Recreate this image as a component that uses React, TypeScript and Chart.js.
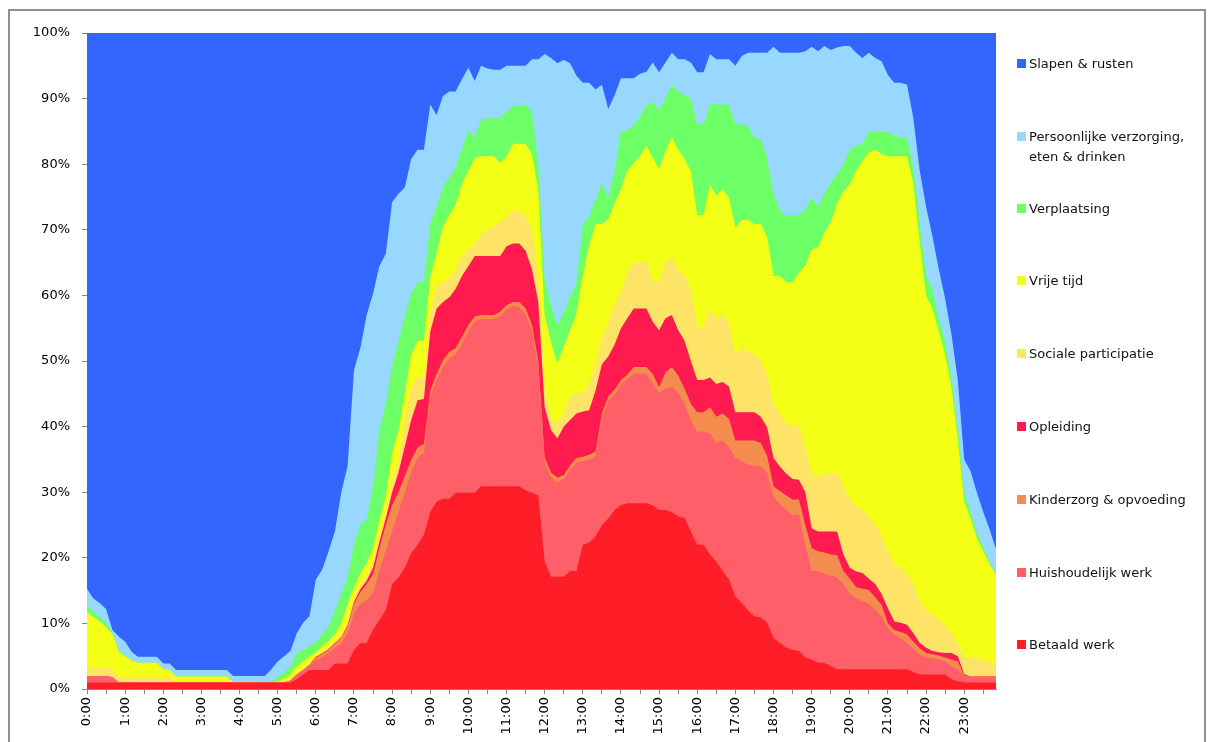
import React, { useEffect, useRef } from 'react';
import { Chart, registerables } from 'chart.js';

Chart.register(...registerables);

const categories: string[] = [
  '0:00','0:10','0:20','0:30','0:40','0:50','1:00','1:10','1:20','1:30','1:40','1:50',
  '2:00','2:10','2:20','2:30','2:40','2:50','3:00','3:10','3:20','3:30','3:40','3:50',
  '4:00','4:10','4:20','4:30','4:40','4:50','5:00','5:10','5:20','5:30','5:40','5:50',
  '6:00','6:10','6:20','6:30','6:40','6:50','7:00','7:10','7:20','7:30','7:40','7:50',
  '8:00','8:10','8:20','8:30','8:40','8:50','9:00','9:10','9:20','9:30','9:40','9:50',
  '10:00','10:10','10:20','10:30','10:40','10:50','11:00','11:10','11:20','11:30','11:40','11:50',
  '12:00','12:10','12:20','12:30','12:40','12:50','13:00','13:10','13:20','13:30','13:40','13:50',
  '14:00','14:10','14:20','14:30','14:40','14:50','15:00','15:10','15:20','15:30','15:40','15:50',
  '16:00','16:10','16:20','16:30','16:40','16:50','17:00','17:10','17:20','17:30','17:40','17:50',
  '18:00','18:10','18:20','18:30','18:40','18:50','19:00','19:10','19:20','19:30','19:40','19:50',
  '20:00','20:10','20:20','20:30','20:40','20:50','21:00','21:10','21:20','21:30','21:40','21:50',
  '22:00','22:10','22:20','22:30','22:40','22:50','23:00','23:10','23:20','23:30','23:40','23:50',
];

const betaaldWerk: number[] = [
  1,1,1,1,1,1,1,1,1,1,1,1,
  1,1,1,1,1,1,1,1,1,1,1,1,
  1,1,1,1,1,1,1,1,1,1.5,2.2,2.9,
  2.9,2.9,2.9,3.9,3.9,3.9,6.0,7.0,7.0,9.0,10.5,12.0,
  16.0,17.0,18.5,20.7,22.0,23.5,27.0,28.6,29.0,29.0,29.9,29.9,
  29.9,29.9,30.9,30.9,30.9,30.9,30.9,30.9,30.9,30.3,29.9,29.5,
  19.4,17.1,17.1,17.1,18.0,18.0,22.0,22.3,23.3,25.0,26.0,27.3,
  28.0,28.3,28.3,28.3,28.3,28.0,27.3,27.3,27.0,26.3,26.1,24.0,
  22.0,22.0,20.5,19.4,18.0,16.7,14.1,13.1,12.0,11.1,10.9,10.1,
  7.8,7.0,6.3,6.0,5.8,4.8,4.5,4.0,4.0,3.5,3.0,3.0,
  3.0,3.0,3.0,3.0,3.0,3.0,3.0,3.0,3.0,3.0,2.6,2.2,
  2.2,2.2,2.2,2.2,1.5,1.2,1.0,1.0,1.0,1.0,1.0,1.0,
];

const huishoudelijkWerk: number[] = [
  1.0,1.0,1.0,1.0,0.8,0,0,0,0,0,0,0,
  0,0,0,0,0,0,0,0,0,0,0,0,
  0,0,0,0,0,0,0,0,0.3,0.7,0.7,0.6,
  1.5,1.9,2.6,2.4,3.1,4.6,5.5,6.0,6.5,5.6,7.5,9.0,
  8.0,10.0,11.5,12.3,13.2,12.5,17.5,18.5,20.1,21.4,21.1,22.8,
  24.6,26.1,25.5,25.5,25.5,25.9,26.9,27.5,27.3,26.7,24.6,19.5,
  15.1,15.2,14.3,14.9,15.4,16.5,12.7,12.7,12.2,16.2,17.9,17.6,
  18.4,18.9,19.8,19.8,19.8,18.5,17.8,18.5,19.1,18.8,17.4,17.0,
  17.2,17.2,18.5,18.1,19.9,20.1,21.1,21.6,22.2,22.9,23.0,22.8,
  21.5,21.2,21.0,20.5,20.8,17.2,13.5,14.0,13.6,13.8,14.0,13.0,
  11.5,10.8,10.4,10.0,9.1,8.0,6.3,5.3,4.8,4.0,3.5,3.0,
  2.6,2.5,2.3,2.0,2.0,1.8,0.9,0.9,0.9,0.9,0.9,0.9,
];

const kinderzorg: number[] = [
  0,0,0,0,0,0,0,0,0,0,0,0,
  0,0,0,0,0,0,0,0,0,0,0,0,
  0,0,0,0,0,0,0,0,0,0,0,0.1,
  0.4,0.5,0.5,0.6,0.8,1.0,1.5,1.8,2.5,2.9,3.5,4.0,
  4.0,3.0,2.5,1.9,1.6,1.4,1.0,0.9,1.0,1.0,1.0,1.0,
  1.0,0.8,0.6,0.6,0.6,0.7,0.7,0.6,0.8,1.0,1.0,1.0,
  0.8,0.7,0.8,0.6,0.7,0.7,0.7,0.7,0.7,0.8,0.7,0.7,
  0.7,0.7,1.0,1.0,1.0,1.5,0.9,2.5,3.0,2.7,2.3,2.5,
  3.0,3.0,4.0,4.0,4.1,4.4,2.7,3.2,3.7,3.9,3.6,2.6,
  1.6,2.0,2.2,2.4,2.3,3.0,3.5,3.0,3.2,3.2,3.4,2.0,
  2.3,1.7,1.9,2.1,1.9,1.8,0.7,0.7,0.9,1.3,1.1,1.0,
  0.7,0.6,0.6,0.6,1.0,1.2,0.2,0,0,0,0,0,
];

const opleiding: number[] = [
  0,0,0,0,0,0,0,0,0,0,0,0,
  0,0,0,0,0,0,0,0,0,0,0,0,
  0,0,0,0,0,0,0,0,0,0,0,0.1,
  0.1,0.1,0.1,0.1,0.1,0.2,0.3,0.4,0.5,1.0,1.0,1.0,
  2.0,3.0,4.5,6.1,7.2,6.8,9.0,10.0,8.9,8.3,9.0,9.3,
  9.0,9.2,9.0,9.0,9.0,8.5,9.0,8.9,8.9,8.8,8.5,9.0,
  7.7,6.5,6.0,7.4,6.9,6.8,6.9,6.8,9.3,7.5,6.1,6.9,
  7.9,8.6,8.9,8.9,8.9,8.0,8.7,8.2,7.9,6.9,7.3,6.5,
  4.9,4.9,4.5,5.0,4.8,4.9,4.3,4.3,4.3,4.3,4.0,4.4,
  4.3,3.7,3.3,3.1,3.0,5.0,3.0,3.0,3.2,3.5,3.6,2.5,
  1.7,2.4,2.4,1.7,2.0,1.7,2.3,1.3,1.4,1.5,1.3,0.8,
  0.8,0.5,0.5,0.7,1.0,0.8,0.2,0,0,0,0,0,
];

const socialeParticipatie: number[] = [
  1.2,1.2,1.2,1.2,1.2,0.8,0.8,0.8,0.8,0.8,0.8,0.8,
  0.8,0.8,0.2,0.2,0.2,0.2,0.2,0.2,0.2,0.2,0.2,0,
  0,0,0,0,0,0,0,0.1,0.1,0.2,0.2,0.2,
  0.2,0.3,0.4,0.4,0.5,0.6,0.7,0.8,0.8,1.2,1.0,1.0,
  2.0,2.0,4.0,5.0,3.5,3.3,3.0,3.5,3.0,3.0,3.0,3.0,
  2.5,2.0,3.3,4.0,4.5,5.2,4.5,5.0,5.0,5.2,6.0,4.0,
  3.0,2.0,2.3,2.0,3.5,3.0,3.0,4.0,4.0,4.0,5.3,6.0,
  5.5,7.0,7.0,7.0,7.3,6.3,7.3,8.5,9.0,9.3,9.9,11.0,
  8.0,8.0,10.5,10.0,10.2,9.6,8.9,9.9,9.3,8.9,8.5,8.1,
  8.3,8.1,7.7,8.2,8.3,7.0,8.5,8.3,8.9,8.9,8.9,10.5,
  10.5,9.9,9.6,9.4,9.0,9.0,8.7,8.7,8.4,7.7,7.6,6.5,
  5.7,5.6,4.9,4.3,3.0,2.0,2.5,2.9,2.9,2.6,2.1,1.9,
];

const vrijeTijd: number[] = [
  8.6,7.8,7.1,6.2,5.4,3.9,3.2,2.6,2.2,2.2,2.2,2.2,
  1.2,1.1,0.7,0.7,0.7,0.7,0.7,0.7,0.7,0.7,0.7,0,
  0,0,0,0,0,0,0.2,0.5,0.8,1.1,1.1,1.1,
  0.5,0.8,0.8,0.9,1.6,2.7,1.5,1.6,1.9,1.8,2.3,2.3,
  3.9,4.5,4.1,5.0,5.6,5.6,5.2,5.0,8.5,9.5,9.9,11.0,
  12.0,13.0,11.9,11.2,10.7,9.0,9.2,10.2,10.2,11.1,11.5,13.0,
  11.0,11.4,9.1,10.2,10.2,12.3,17.7,21.1,21.4,17.4,15.6,15.5,
  15.7,15.5,15.2,16.2,17.5,18.7,17.3,17.0,18.1,18.2,17.8,17.9,
  17.1,17.1,18.9,18.7,19.2,19.2,19.2,19.4,20.0,19.8,20.9,20.9,
  19.5,21.0,21.5,21.8,23.3,27.6,34.0,35.0,36.7,38.3,41.1,44.9,
  47.9,51.2,53.2,55.6,57.2,58.0,60.2,62.2,62.7,63.7,60.9,54.5,
  48.0,46.6,44.0,41.2,37.5,31.0,23.8,21.2,18.2,16.5,15.0,13.6,
];

const verplaatsing: number[] = [
  1.0,0.8,0.7,0.6,0.3,0.3,0.2,0,0,0,0,0,
  0,0,0,0,0,0,0,0,0,0,0,0,
  0,0,0,0,0,0.2,0.6,0.9,1.3,2.0,1.8,1.5,
  1.4,1.8,2.2,3.7,4.5,4.0,6.5,7.4,6.6,9.3,13.7,14.2,
  13.2,13.5,11.7,9.3,8.9,8.9,8.3,7.0,6.0,5.8,5.6,5.5,
  6.1,3.1,5.6,5.8,5.8,6.9,6.8,5.7,5.9,6.0,6.5,4.0,
  5.5,5.6,5.9,5.1,5.0,4.7,7.9,4.4,3.6,6.1,3.4,5.0,
  8.9,6.1,5.8,5.9,6.2,8.5,9.0,8.0,8.0,8.9,9.7,11.1,
  13.9,13.9,12.2,13.9,12.9,14.2,15.8,14.5,14.3,13.2,12.9,12.1,
  12.5,9.9,10.2,10.2,8.7,8.4,7.9,6.2,5.9,6.0,4.5,4.1,
  5.3,3.8,2.6,3.1,2.7,3.4,3.7,3.1,2.9,2.9,2.5,3.0,
  3.0,3.0,2.0,2.0,1.5,1.5,1.4,1.0,0.8,0.6,0.4,0.3,
];

const persoonlijkeVerzorging: number[] = [
  2.5,2.0,2.1,2.2,0.3,2.0,2.0,1.3,0.9,0.9,0.9,0.9,
  0.9,1.0,1.0,1.0,1.0,1.0,1.0,1.0,1.0,1.0,1.0,1.0,
  1.0,1.0,1.0,1.0,1.0,1.8,2.4,2.5,2.3,3.0,4.1,4.6,
  9.7,9.9,11.5,12.0,15.5,17.0,26.6,27.0,31.2,29.5,25.0,22.8,
  25.1,22.5,19.7,20.5,20.2,20.2,18.1,14.0,13.9,13.1,11.6,10.5,
  9.6,8.6,8.2,7.6,7.4,7.3,7.0,6.2,6.0,5.9,8.0,16.0,
  34.3,37.7,39.9,38.6,35.7,31.5,21.5,20.4,16.9,15.1,13.4,11.5,
  8.0,8.0,7.1,6.7,5.1,6.0,5.7,5.5,4.9,4.9,5.5,5.5,
  7.9,7.9,7.7,6.9,6.9,6.9,8.9,10.5,11.2,12.9,13.2,16.0,
  22.4,24.1,24.8,24.8,24.8,24.2,23.0,23.7,22.5,20.2,19.3,18.0,
  15.8,14.2,13.1,12.1,11.3,10.8,8.7,8.1,8.3,8.0,7.5,8.0,
  10.5,8.0,7.5,6.5,6.5,7.5,5.0,6.2,6.1,5.4,4.9,3.6,
];

const slapenRusten: number[] = [
  84.7,86.2,86.9,87.8,91.0,92.0,92.8,94.3,95.1,95.1,95.1,95.1,
  96.1,96.1,97.1,97.1,97.1,97.1,97.1,97.1,97.1,97.1,97.1,98.0,
  98.0,98.0,98.0,98.0,98.0,97.0,95.8,95.0,94.2,91.5,89.9,88.9,
  83.3,81.8,79.0,76.0,70.0,66.0,51.4,48.0,43.0,39.7,35.5,33.7,
  25.8,24.5,23.5,19.2,17.8,17.8,10.9,12.5,9.6,8.9,8.9,7.0,
  5.3,7.3,5.0,5.4,5.6,5.6,5.0,5.0,5.0,5.0,4.0,4.0,
  3.2,3.8,4.6,4.1,4.6,6.5,7.6,7.6,8.6,7.9,11.6,9.5,
  6.9,6.9,6.9,6.2,5.9,4.5,6.0,4.5,3.0,4.0,4.0,4.5,
  6.0,6.0,3.2,4.0,4.0,4.0,5.0,3.5,3.0,3.0,3.0,3.0,
  2.1,3.0,3.0,3.0,3.0,2.8,2.1,2.8,2.0,2.6,2.2,2.0,
  2.0,3.0,3.8,3.0,3.8,4.3,6.4,7.6,7.6,7.9,13.0,21.0,
  26.5,31.0,36.0,40.5,46.0,53.0,65.0,66.8,70.1,73.0,75.7,78.7,
];

const yTickValues: number[] = [0, 10, 20, 30, 40, 50, 60, 70, 80, 90, 100];

// bottom to top
const seriesNames: string[] = [
  'Betaald werk',
  'Huishoudelijk werk',
  'Kinderzorg & opvoeding',
  'Opleiding',
  'Sociale participatie',
  'Vrije tijd',
  'Verplaatsing',
  'Persoonlijke verzorging, eten & drinken',
  'Slapen & rusten',
];
const seriesData: number[][] = [
  betaaldWerk, huishoudelijkWerk, kinderzorg, opleiding, socialeParticipatie,
  vrijeTijd, verplaatsing, persoonlijkeVerzorging, slapenRusten,
];
const seriesColors: string[] = [
  '#FF1E28', '#FF5F68', '#F38C4C', '#FF1A50', '#FDE466',
  '#F3FF14', '#6CFF66', '#98D8FE', '#3366FF',
];

// legend (top to bottom)
const legendItems: { lines: string[]; color: string; y: number }[] = [
  { lines: ['Slapen & rusten'], color: '#3366FF', y: 64 },
  { lines: ['Persoonlijke verzorging,', 'eten & drinken'], color: '#98D8FE', y: 137 },
  { lines: ['Verplaatsing'], color: '#6CFF66', y: 209 },
  { lines: ['Vrije tijd'], color: '#F3FF14', y: 281 },
  { lines: ['Sociale participatie'], color: '#FDE466', y: 354 },
  { lines: ['Opleiding'], color: '#FF1A50', y: 427 },
  { lines: ['Kinderzorg & opvoeding'], color: '#F38C4C', y: 500 },
  { lines: ['Huishoudelijk werk'], color: '#FF5F68', y: 573 },
  { lines: ['Betaald werk'], color: '#FF1E28', y: 645 },
];

const FONT = "'DejaVu Sans', Verdana, sans-serif";
const AXIS_GRAY = '#868686';

export default function App() {
  const canvasRef = useRef<HTMLCanvasElement | null>(null);

  useEffect(() => {
    const canvas = canvasRef.current;
    if (!canvas) return;
    const chart = new Chart(canvas, {
      type: 'line',
      data: {
        labels: categories,
        datasets: seriesData.map((d, i) => ({
          label: seriesNames[i],
          data: d,
          backgroundColor: seriesColors[i],
          borderColor: 'rgba(0,0,0,0)',
          borderWidth: 0,
          pointRadius: 0,
          pointHoverRadius: 0,
          tension: 0,
          fill: 'origin',
        })),
      },
      options: {
        responsive: false,
        animation: false,
        events: [],
        layout: { padding: { left: 0, right: 217, top: 33, bottom: 0 } },
        plugins: {
          legend: { display: false },
          tooltip: { enabled: false },
          title: { display: false },
        },
        scales: {
          x: {
            type: 'category',
            offset: false,
            grid: {
              display: true,
              drawOnChartArea: false,
              drawTicks: true,
              tickLength: 5,
              color: (ctx: any) => (ctx.index % 3 === 0 ? AXIS_GRAY : 'rgba(0,0,0,0)'),
              lineWidth: 1,
            },
            border: { display: true, color: AXIS_GRAY, width: 1 },
            ticks: {
              autoSkip: false,
              maxRotation: 90,
              minRotation: 90,
              padding: 3,
              color: '#000',
              font: { family: FONT, size: 13 },
              callback: (_v: any, i: number) => (i % 6 === 0 ? categories[i] : ''),
            },
            afterFit: (scale: any) => {
              scale.height = 53;
            },
          },
          y: {
            stacked: true,
            min: 0,
            max: 100,
            grid: {
              display: true,
              drawOnChartArea: false,
              drawTicks: true,
              tickLength: 5,
              color: AXIS_GRAY,
            },
            border: { display: true, color: AXIS_GRAY, width: 1 },
            afterBuildTicks: (scale: any) => {
              scale.ticks = yTickValues.map((v) => ({ value: v }));
            },
            ticks: {
              padding: 12,
              color: '#000',
              font: { family: FONT, size: 13 },
              callback: (v: any) => `${v}%`,
            },
            afterFit: (scale: any) => {
              scale.width = 87;
            },
          },
        },
      },
    });
    return () => chart.destroy();
  }, []);

  return (
    <div
      style={{
        position: 'fixed',
        left: 0,
        top: 0,
        width: 1213,
        height: 742,
        background: '#ffffff',
        overflow: 'hidden',
      }}
    >
      <div
        style={{
          position: 'absolute',
          left: 8,
          top: 9,
          width: 1198,
          height: 760,
          border: '2px solid #8f8f8f',
          boxSizing: 'border-box',
        }}
      />
      <canvas
        ref={canvasRef}
        width={1213}
        height={742}
        style={{ position: 'absolute', left: 0, top: 0, width: 1213, height: 742 }}
      />
      {legendItems.map((it) => (
        <div key={it.lines[0]}>
          <div
            style={{
              position: 'absolute',
              left: 1017,
              top: it.y - 5,
              width: 9,
              height: 9,
              background: it.color,
            }}
          />
          {it.lines.map((ln, k) => (
            <div
              key={ln}
              style={{
                position: 'absolute',
                left: 1029,
                top: it.y - 10 + k * 20,
                height: 20,
                lineHeight: '20px',
                fontFamily: FONT,
                fontSize: 13,
                color: '#111',
                whiteSpace: 'nowrap',
              }}
            >
              {ln}
            </div>
          ))}
        </div>
      ))}
    </div>
  );
}
